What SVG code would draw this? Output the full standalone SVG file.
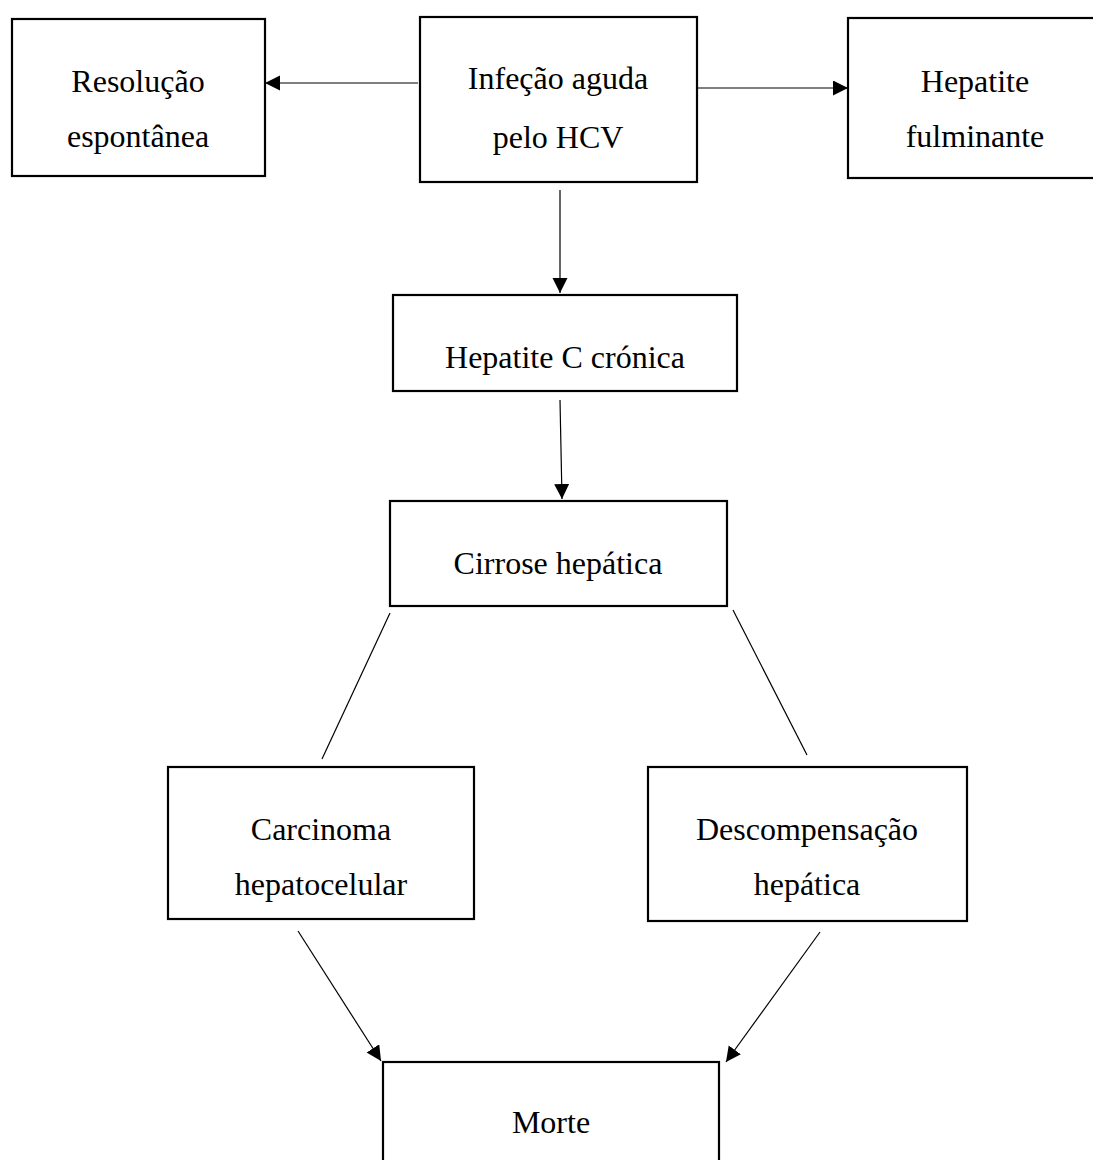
<svg xmlns="http://www.w3.org/2000/svg" width="1093" height="1160" viewBox="0 0 1093 1160">
<style>
.box{fill:#fff;stroke:#000;stroke-width:2.2}
.lbl{font-family:"Liberation Serif","Times New Roman",serif;font-size:32px;fill:#000;text-anchor:middle}
.con{stroke:#000;stroke-width:1.2;fill:none}
</style>
<defs>
<marker id="ah" markerUnits="userSpaceOnUse" markerWidth="16" markerHeight="16" refX="15" refY="7.5" orient="auto">
<path d="M0,0 L15,7.5 L0,15 z" fill="#000"/>
</marker>
</defs>
<rect width="1093" height="1160" fill="#fff"/>
<g id="n-resolucao"><rect class="box" x="12" y="19" width="253" height="157"/><text class="lbl" x="138" y="92">Resolução</text><text class="lbl" x="138" y="147">espontânea</text></g>
<g id="n-infecao"><rect class="box" x="420" y="17" width="277" height="165"/><text class="lbl" x="558" y="89">Infeção aguda</text><text class="lbl" x="558" y="148">pelo HCV</text></g>
<g id="n-fulminante"><rect class="box" x="848" y="18" width="256" height="160"/><text class="lbl" x="975" y="92">Hepatite</text><text class="lbl" x="975" y="147">fulminante</text></g>
<g id="n-cronica"><rect class="box" x="393" y="295" width="344" height="96"/><text class="lbl" x="565" y="368">Hepatite C crónica</text></g>
<g id="n-cirrose"><rect class="box" x="390" y="501" width="337" height="105"/><text class="lbl" x="558" y="574">Cirrose hepática</text></g>
<g id="n-carcinoma"><rect class="box" x="168" y="767" width="306" height="152"/><text class="lbl" x="321" y="840">Carcinoma</text><text class="lbl" x="321" y="895">hepatocelular</text></g>
<g id="n-descomp"><rect class="box" x="648" y="767" width="319" height="154"/><text class="lbl" x="807" y="840">Descompensação</text><text class="lbl" x="807" y="895">hepática</text></g>
<g id="n-morte"><rect class="box" x="383" y="1062" width="336" height="110"/><text class="lbl" x="551" y="1133">Morte</text></g>
<g id="connectors">
<line class="con" x1="418" y1="83" x2="265" y2="83" marker-end="url(#ah)"/>
<line class="con" x1="697" y1="88" x2="848" y2="88" marker-end="url(#ah)"/>
<line class="con" x1="560" y1="190" x2="560" y2="293" marker-end="url(#ah)"/>
<line class="con" x1="560" y1="400" x2="562" y2="499" marker-end="url(#ah)"/>
<line class="con" x1="390" y1="613" x2="322" y2="759"/>
<line class="con" x1="733" y1="610" x2="807" y2="755"/>
<line class="con" x1="298" y1="931" x2="381" y2="1061" marker-end="url(#ah)"/>
<line class="con" x1="820" y1="932" x2="726" y2="1062" marker-end="url(#ah)"/>
</g>
</svg>
